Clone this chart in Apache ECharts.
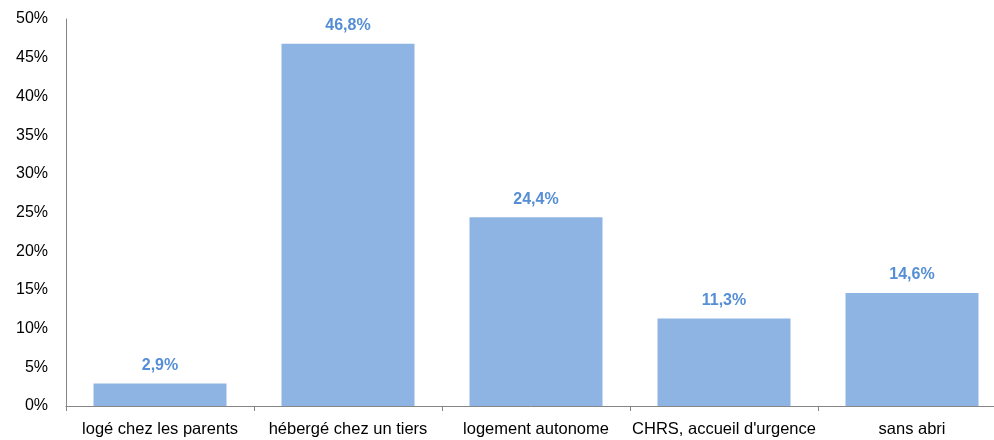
<!DOCTYPE html>
<html>
<head>
<meta charset="utf-8">
<script src="https://cdn.jsdelivr.net/npm/echarts@6/dist/echarts.min.js"></script>
<style>
  html, body { margin: 0; padding: 0; background: #fff; }
  #chart { width: 994px; height: 440px; }
</style>
</head>
<body>
<div id="chart"></div>
<script>
  // catégories de logement
  var categories = ['logé chez les parents', 'hébergé chez un tiers', 'logement autonome', "CHRS, accueil d'urgence", 'sans abri']
  // part en %
  var values = [2.9, 46.8, 24.4, 11.3, 14.6]

  var font = '"Liberation Sans", Arial, sans-serif'
  var chart = echarts.init(document.getElementById('chart'))
  var option = {
    animation: false,
    textStyle: { fontFamily: font },
    grid: { left: 66, width: 940, top: 19, bottom: 34, outerBoundsMode: 'none' },
    xAxis: {
      type: 'category',
      data: categories,
      axisLine: { lineStyle: { color: '#868686', width: 1 } },
      axisTick: { show: true, length: 5, lineStyle: { color: '#868686' } },
      axisLabel: { color: '#000', fontSize: 16.5, fontFamily: font, margin: 15, interval: 0 }
    },
    yAxis: {
      type: 'value',
      min: 0,
      max: 50,
      interval: 5,
      axisLine: { show: true, lineStyle: { color: '#868686', width: 1 } },
      axisTick: { show: false },
      splitLine: { show: false },
      axisLabel: { color: '#000', fontSize: 16, fontFamily: font, margin: 18, formatter: '{value}%' }
    },
    series: [
      {
        type: 'bar',
        data: values,
        barWidth: 133,
        itemStyle: { color: '#8EB4E3' },
        label: {
          show: true,
          position: 'top',
          distance: 10,
          color: '#558ED5',
          fontWeight: 'bold',
          fontSize: 16,
          fontFamily: font,
          formatter: function (p) { return p.value.toFixed(1).replace('.', ',') + '%' }
        }
      }
    ]
  }
  chart.setOption(option)
</script>
</body>
</html>
